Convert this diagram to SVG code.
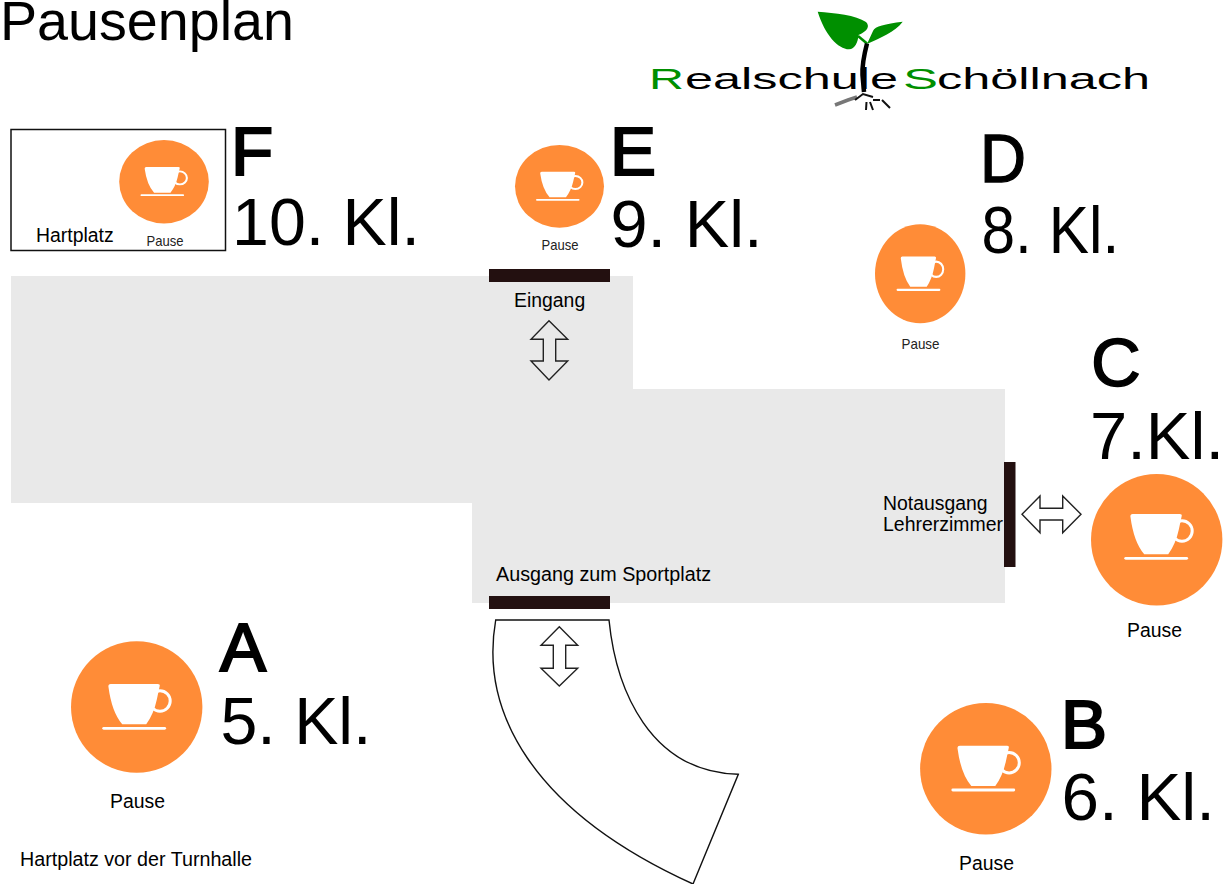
<svg xmlns="http://www.w3.org/2000/svg" xmlns:xlink="http://www.w3.org/1999/xlink" width="1227" height="884" viewBox="0 0 1227 884">
<style>
text{font-family:"Liberation Sans",Arial,sans-serif;fill:#000}
.l{font-size:19.4px}
.s{font-size:14.5px;fill:#222}
.big{font-size:69px;stroke:#000;stroke-width:2.2px}
.thin{stroke-width:1.4px}
.kl{font-size:67px}
.bar{fill:#231010}
.ar{fill:none;stroke:#222;stroke-width:1.4;stroke-linejoin:miter}
.logo{font-size:29px}
.g{fill:#008f00}
.disc{fill:#ff8c37}
</style>
<defs>
<g id="cup">
<path d="M-28.300 -20.500Q-28.500 -23 -26 -23H21Q23.500 -23 23 -21L20 -7Q17 7 9.500 17.300H-14.500Q-25 5 -28.300 -20.500Z" fill="#fff"/>
<circle cx="23.300" cy="-6" r="10.200" fill="none" stroke="#fff" stroke-width="3"/>
<path d="M-33 21.300H28" stroke="#fff" stroke-width="2.800" stroke-linecap="round"/>
</g>
</defs>
<rect width="1227" height="884" fill="#fff"/>
<g id="plan">
<path d="M11 276H633V389H1005V603H472V503H11Z" fill="#e9e9e9"/>
<path id="curved-path" d="M495.700 620H609C616 690 650 772 738.300 774.300L693 884C530 810 480 710 495.700 620Z" fill="#fff" stroke="#111" stroke-width="1.400"/>
<rect class="bar" x="489" y="269" width="121" height="13"/>
<rect class="bar" x="489" y="596" width="121" height="13"/>
<rect class="bar" x="1004" y="462" width="11.500" height="105"/>
</g>
<g id="connectors">
<path class="ar" d="M549 320.700L567.700 339.300H555.700V361H567.700L549 380L531 361H543.300V339.300H531Z"/>
<path class="ar" d="M559.300 626.700L577.700 645.300H565.700V668.300H577.700L559.300 686L541 668.300H553.300V645.300H541Z"/>
<path class="ar" d="M1022 514.300L1040 496V508.300H1062.700V496L1081 514.300L1062.700 532.700V520H1040V532.700Z"/>
</g>
<text id="title" x="0" y="39.500" font-size="55" textLength="294" lengthAdjust="spacingAndGlyphs">Pausenplan</text>
<g id="logo">
<text class="logo g" x="649" y="89" textLength="35" lengthAdjust="spacingAndGlyphs">R</text>
<text class="logo" x="685" y="89" textLength="213" lengthAdjust="spacingAndGlyphs">ealschule</text>
<text class="logo g" x="903" y="89" textLength="35" lengthAdjust="spacingAndGlyphs">S</text>
<text class="logo" x="937" y="89" textLength="213" lengthAdjust="spacingAndGlyphs">chöllnach</text>
<path d="M817.700 11.700C835 13 856 15 866 22C870 26 868 31 858.500 35C858 42 855 49 849 49.300C838 49 825 35 817.700 11.700Z" fill="#008f00"/>
<path d="M858 36L867 43.500" fill="none" stroke="#008f00" stroke-width="2.500"/>
<path d="M902.700 21.700C885 24 875 26 873 31L867 44C880 38 895 32 902.700 21.700Z" fill="#008f00"/>
<path d="M867 43.500C864 55 862 65 862.500 75L864 92" fill="none" stroke="#000" stroke-width="4.500"/>
<path d="M835 105L848 100L857 97" fill="none" stroke="#777" stroke-width="3.500"/>
<path d="M855 100L863 94L873 97M866.500 102L866 110M870 102L873 110M873 100H880M882 100L890 108" fill="none" stroke="#111" stroke-width="2"/>
</g>
<g id="node-a">
<circle class="disc" cx="136.700" cy="707" r="65.700"/>
<use xlink:href="#cup" href="#cup" transform="translate(136.700 707)"/>
<text class="l" x="110" y="808">Pause</text>
<text class="big" x="220" y="671">A</text>
<text class="kl" x="220.500" y="743.500" textLength="151" lengthAdjust="spacingAndGlyphs">5. Kl.</text>
</g>
<g id="node-b">
<circle class="disc" cx="985.800" cy="768.700" r="65.700"/>
<use xlink:href="#cup" href="#cup" transform="translate(985.800 768.700)"/>
<text class="l" x="959" y="870">Pause</text>
<text class="big" x="1061" y="748">B</text>
<text class="kl" x="1061.500" y="820" textLength="153.500" lengthAdjust="spacingAndGlyphs">6. Kl.</text>
</g>
<g id="node-c">
<circle class="disc" cx="1156.700" cy="539.700" r="65.700"/>
<use xlink:href="#cup" href="#cup" transform="translate(1158.700 537)"/>
<text class="l" x="1127" y="637">Pause</text>
<text class="big thin" x="1091" y="386">C</text>
<text class="kl" x="1090" y="458.500" textLength="134" lengthAdjust="spacingAndGlyphs">7.Kl.</text>
</g>
<g id="node-d">
<ellipse class="disc" cx="920.200" cy="273.800" rx="45.200" ry="49.500"/>
<use xlink:href="#cup" href="#cup" transform="translate(920.200 273.800) scale(.687 .753)"/>
<text class="s" x="901.500" y="349" textLength="38" lengthAdjust="spacingAndGlyphs">Pause</text>
<text class="big thin" x="980" y="181.500" textLength="46" lengthAdjust="spacingAndGlyphs">D</text>
<text class="kl" x="981.500" y="253" textLength="137.700" lengthAdjust="spacingAndGlyphs">8. Kl.</text>
</g>
<g id="node-e">
<ellipse class="disc" cx="559.500" cy="186.300" rx="44.500" ry="41.400"/>
<use xlink:href="#cup" href="#cup" transform="translate(559.500 186.300) scale(.683 .635)"/>
<text class="s" x="541.500" y="250" textLength="37" lengthAdjust="spacingAndGlyphs">Pause</text>
<text class="big" x="610" y="175">E</text>
<text class="kl" x="610.500" y="246.500" textLength="152" lengthAdjust="spacingAndGlyphs">9. Kl.</text>
</g>
<g id="node-f">
<rect x="11" y="129.500" width="214.500" height="121" fill="none" stroke="#111" stroke-width="1.500"/>
<ellipse class="disc" cx="164" cy="181.700" rx="44.800" ry="41.700"/>
<use xlink:href="#cup" href="#cup" transform="translate(164 181.700) scale(.683 .635)"/>
<text class="l" x="36" y="242">Hartplatz</text>
<text class="s" x="146.500" y="246" textLength="37" lengthAdjust="spacingAndGlyphs">Pause</text>
<text class="big" x="231" y="175">F</text>
<text class="kl" x="232" y="245" textLength="188" lengthAdjust="spacingAndGlyphs">10. Kl.</text>
</g>
<g id="labels">
<text class="l" x="514" y="307">Eingang</text>
<text class="l" x="496" y="581" textLength="215" lengthAdjust="spacingAndGlyphs">Ausgang zum Sportplatz</text>
<text class="l" x="883" y="510">Notausgang</text>
<text class="l" x="883" y="531" textLength="120" lengthAdjust="spacingAndGlyphs">Lehrerzimmer</text>
<text class="l" x="20" y="866" textLength="232" lengthAdjust="spacingAndGlyphs">Hartplatz vor der Turnhalle</text>
</g>
</svg>
